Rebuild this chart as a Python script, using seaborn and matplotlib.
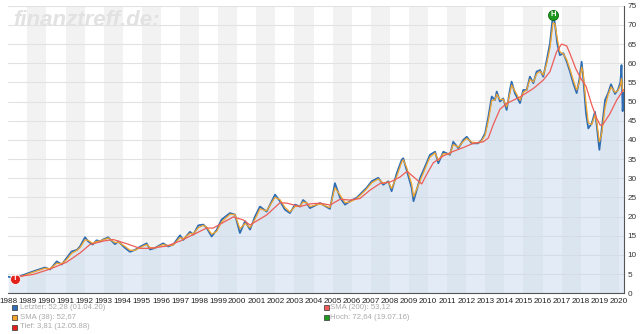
import matplotlib
matplotlib.use('Agg')
import matplotlib.pyplot as plt
import seaborn as sns
from matplotlib.patches import Rectangle

# ---------------- data ----------------
price_years = [1988.00, 1988.39, 1988.70, 1989.03, 1989.49, 1989.92, 1990.19, 1990.54, 1990.80, 1991.06,
               1991.32, 1991.60, 1991.76, 1992.02, 1992.19, 1992.42, 1992.63, 1992.81, 1992.96, 1993.16,
               1993.23, 1993.59, 1993.77, 1994.12, 1994.38, 1994.64, 1994.90, 1995.25, 1995.43, 1995.69,
               1996.11, 1996.39, 1996.65, 1997.00, 1997.17, 1997.52, 1997.70, 1997.96, 1998.22, 1998.40,
               1998.66, 1998.92, 1999.18, 1999.62, 1999.88, 2000.14, 2000.41, 2000.67, 2000.93, 2001.19,
               2001.54, 2001.98, 2002.24, 2002.50, 2002.76, 2003.03, 2003.29, 2003.45, 2003.64, 2003.81,
               2004.34, 2004.86, 2005.12, 2005.39, 2005.65, 2005.91, 2006.26, 2006.52, 2006.78, 2007.05,
               2007.39, 2007.65, 2007.92, 2008.09, 2008.36, 2008.62, 2008.70, 2008.88, 2009.14, 2009.24,
               2009.58, 2009.84, 2010.10, 2010.37, 2010.54, 2010.80, 2011.15, 2011.32, 2011.59, 2011.85,
               2012.03, 2012.29, 2012.63, 2012.81, 2012.99, 2013.16, 2013.34, 2013.51, 2013.60, 2013.77,
               2013.94, 2014.12, 2014.29, 2014.38, 2014.55, 2014.82, 2014.99, 2015.17, 2015.34, 2015.52,
               2015.69, 2015.87, 2016.04, 2016.22, 2016.39, 2016.55, 2016.65, 2016.77, 2016.91, 2017.09,
               2017.27, 2017.44, 2017.61, 2017.79, 2017.93, 2018.05, 2018.13, 2018.28, 2018.40, 2018.58,
               2018.75, 2018.84, 2018.98, 2019.10, 2019.28, 2019.44, 2019.59, 2019.80, 2019.95, 2020.08,
               2020.14, 2020.20, 2020.25]
price_values = [4.3, 3.81, 4.6, 5.2, 6.0, 6.7, 6.2, 8.3, 7.5, 9.2,
                10.9, 11.3, 12.2, 14.6, 13.5, 12.7, 13.8, 13.5, 14.0, 14.4,
                14.6, 12.8, 13.5, 11.8, 10.8, 11.3, 12.1, 13.0, 11.4, 11.8,
                13.0, 12.2, 12.7, 15.1, 13.9, 16.0, 15.3, 17.7, 17.9, 17.0,
                14.8, 16.5, 19.2, 20.9, 20.5, 15.7, 18.8, 16.6, 20.0, 22.6,
                21.3, 25.7, 24.0, 21.8, 20.9, 23.1, 22.6, 24.3, 23.5, 22.2,
                23.5, 22.0, 28.7, 24.9, 23.1, 24.0, 24.9, 26.2, 27.5, 29.2,
                30.1, 28.3, 29.2, 26.6, 31.3, 34.8, 35.2, 32.1, 27.5, 24.0,
                30.0, 33.0, 36.1, 36.9, 33.9, 36.9, 36.1, 39.5, 37.8, 40.0,
                40.8, 39.1, 39.1, 40.0, 41.7, 46.0, 51.3, 50.4, 52.6, 50.0,
                50.8, 47.8, 53.0, 55.2, 52.2, 49.6, 53.0, 53.0, 56.5, 54.8,
                57.8, 58.2, 56.5, 60.8, 65.2, 72.64, 70.4, 65.2, 62.1, 62.6,
                60.4, 57.8, 54.8, 52.2, 55.7, 60.4, 56.5, 46.9, 43.0, 44.3,
                47.3, 43.9, 37.4, 42.6, 50.4, 52.2, 54.5, 52.0, 53.0, 55.0,
                59.5, 47.5, 52.28]

sma38_years = [1988.15] + price_years[1:]
sma38_values = [4.2, 4.0, 4.4, 5.0, 5.8, 6.5, 6.4, 7.8, 7.7, 8.8,
                10.4, 11.2, 11.9, 13.9, 13.8, 13.0, 13.5, 13.6, 13.9, 14.2,
                14.4, 13.2, 13.3, 12.2, 11.2, 11.2, 11.9, 12.7, 11.9, 11.8,
                12.7, 12.4, 12.6, 14.5, 14.2, 15.6, 15.5, 17.1, 17.7, 17.2,
                15.4, 16.1, 18.6, 20.6, 20.5, 16.8, 18.2, 17.1, 19.3, 22.0,
                21.5, 25.0, 24.4, 22.4, 21.2, 22.6, 22.7, 23.8, 23.6, 22.6,
                23.3, 22.3, 27.5, 25.6, 23.6, 23.8, 24.7, 25.9, 27.2, 28.8,
                29.8, 28.7, 29.0, 27.3, 30.5, 34.2, 34.8, 32.8, 28.5, 25.2,
                29.3, 32.5, 35.5, 36.6, 34.6, 36.4, 36.3, 38.8, 38.1, 39.6,
                40.4, 39.4, 39.2, 39.8, 41.2, 45.0, 50.2, 50.5, 51.9, 50.5,
                50.6, 48.6, 52.1, 54.3, 52.8, 50.3, 52.4, 53.0, 55.8, 55.1,
                57.2, 57.9, 56.9, 59.9, 64.0, 70.5, 70.3, 66.5, 63.0, 62.4,
                60.9, 58.4, 55.6, 53.0, 55.0, 59.0, 57.5, 49.5, 44.5, 44.0,
                46.5, 44.8, 39.5, 41.5, 48.5, 51.8, 53.8, 52.4, 52.8, 54.2,
                56.0, 52.8, 52.67]

sma200_years = [1988.61, 1989.31, 1990.19, 1991.06, 1991.76, 1992.28, 1992.98, 1993.50, 1994.21, 1994.90,
                1995.43, 1996.30, 1997.00, 1997.70, 1998.40, 1998.74, 1999.79, 2000.32, 2000.67, 2001.54,
                2002.24, 2002.59, 2003.29, 2003.81, 2004.34, 2004.86, 2005.39, 2005.91, 2006.43, 2006.96,
                2007.48, 2008.01, 2008.53, 2008.90, 2009.32, 2009.67, 2009.93, 2010.27, 2010.80, 2011.32,
                2011.85, 2012.37, 2012.90, 2013.16, 2013.42, 2013.77, 2014.12, 2014.82, 2015.52, 2016.04,
                2016.39, 2016.74, 2017.00, 2017.27, 2017.44, 2017.75, 2018.01, 2018.28, 2018.59, 2018.85,
                2019.03, 2019.16, 2019.52, 2019.89, 2020.25]
sma200_values = [4.4, 4.9, 6.3, 8.1, 10.5, 12.7, 13.6, 14.0, 12.9, 11.7,
                 11.7, 12.3, 13.6, 15.3, 17.0, 17.0, 19.9, 19.1, 17.8, 20.4,
                 23.6, 23.5, 22.6, 23.3, 23.5, 23.0, 24.5, 24.3, 24.7, 26.9,
                 28.6, 29.0, 30.3, 31.8, 30.0, 28.5, 31.0, 34.0, 35.8, 37.0,
                 38.0, 39.1, 39.5, 40.5, 44.0, 48.0, 49.5, 51.2, 53.4, 55.6,
                 57.8, 63.0, 65.0, 64.5, 62.5, 58.5, 56.0, 54.0, 49.0, 45.5,
                 43.8, 44.0, 46.7, 50.4, 53.12]

year_ticks = list(range(1988, 2021))
value_ticks = list(range(0, 80, 5))
low_year, low_value = 1988.36, 3.81
high_year, high_value = 2016.55, 72.64
legend_left = ["Letzter: 52,28 (01.04.20)", "SMA (38): 52,67", "Tief: 3,81 (12.05.88)"]
legend_right = ["SMA (200): 53,12", "Hoch: 72,64 (19.07.16)"]

# ---------------- style ----------------
sns.set_style("white")
plt.rcParams['font.family'] = ['Liberation Sans', 'DejaVu Sans']

C_PRICE = '#2f6db4'
C_SMA38 = '#f4a52c'
C_SMA200 = '#ee5d57'

W, H = 640, 334
fig = plt.figure(figsize=(W / 100, H / 100), dpi=100)
x0, x1 = 8.3, 623.6
y_top, y_bot = 5.7, 293.2
ax = fig.add_axes([x0 / W, 1 - y_bot / H, (x1 - x0) / W, (y_bot - y_top) / H])

# alternating year bands
for yr in range(1989, 2021, 2):
    ax.axvspan(yr, yr + 1, color='#f2f2f2', lw=0, zorder=0)

ax.fill_between(price_years, price_values, 0, color='#c6d9ee', alpha=0.5, lw=0, zorder=2)

sns.lineplot(x=price_years, y=price_values, ax=ax, color=C_PRICE, lw=1.3, sort=False, zorder=3)
sns.lineplot(x=sma38_years, y=sma38_values, ax=ax, color=C_SMA38, lw=0.9, sort=False, zorder=4)
sns.lineplot(x=sma200_years, y=sma200_values, ax=ax, color=C_SMA200, lw=0.9, sort=False, zorder=5)

# low / high markers
ax.scatter([low_year], [low_value], s=52, color='#e3201b', edgecolors='white', linewidths=0.6, zorder=6)
ax.text(low_year, low_value, 'T', color='white', fontsize=5.5, fontweight='bold', ha='center', va='center', zorder=7)
ax.scatter([high_year], [high_value], s=52, color='#1d9a1d', edgecolors='#0c650c', linewidths=0.6, zorder=6)
ax.text(high_year, high_value, 'H', color='white', fontsize=5.5, fontweight='bold', ha='center', va='center', zorder=7)

ax.set_xlim(1988, 2020.25)
ax.set_ylim(0, 75)
ax.set_xticks(year_ticks)
ax.set_xticklabels([str(y) for y in year_ticks])
ax.yaxis.tick_right()
ax.set_yticks(value_ticks)
ax.set_yticklabels([str(v) for v in value_ticks])
ax.set_xlabel('')
ax.set_ylabel('')
ax.grid(axis='y', color='#e2e2e2', lw=0.8)
ax.grid(axis='x', visible=False)
ax.set_axisbelow(True)
for side in ['top', 'left']:
    ax.spines[side].set_visible(False)
for side in ['right', 'bottom']:
    ax.spines[side].set_color('#555555')
    ax.spines[side].set_linewidth(0.8)
ax.tick_params(axis='x', labelsize=5.9, colors='#222222', length=2, width=0.6, pad=1.2, direction='out')
ax.tick_params(axis='y', labelsize=5.9, colors='#333333', length=0, pad=3)
ax.set_facecolor('white')

# watermark
fig.text(13 / W, 1 - 20 / H, 'finanztreff.de:', fontsize=16, fontstyle='italic', fontweight='bold',
         color='#e2e2e2', ha='left', va='center', zorder=1)

# legend below
rows = [307.7, 317.3, 327.0]
left_colors = [C_PRICE, C_SMA38, '#e3201b']
right_colors = [C_SMA200, '#1d9a1d']
for label, col, yy in zip(legend_left, left_colors, rows):
    fig.add_artist(Rectangle((12 / W, 1 - (yy + 2.5) / H), 5 / W, 5 / H, transform=fig.transFigure,
                             facecolor=col, edgecolor='#333333', lw=0.5))
    fig.text(19.5 / W, 1 - yy / H, label, fontsize=5.6, color='#aaaaaa', ha='left', va='center')
for label, col, yy in zip(legend_right, right_colors, rows[:2]):
    fig.add_artist(Rectangle((323.5 / W, 1 - (yy + 2.5) / H), 5 / W, 5 / H, transform=fig.transFigure,
                             facecolor=col, edgecolor='#333333', lw=0.5))
    fig.text(330.5 / W, 1 - yy / H, label, fontsize=5.6, color='#aaaaaa', ha='left', va='center')

fig.savefig('out.png', dpi=100)
